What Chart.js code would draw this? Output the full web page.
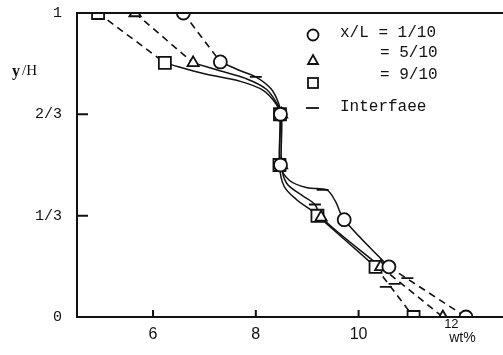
<!DOCTYPE html>
<html>
<head>
<meta charset="utf-8">
<script src="https://cdn.jsdelivr.net/npm/chart.js@4.4.0/dist/chart.umd.min.js"></script>
<style>
  html, body { margin: 0; padding: 0; background: #fff; overflow: hidden; }
  canvas { display: block; }
</style>
</head>
<body>
<canvas id="profile" width="503" height="355"></canvas>
<script>
// measured concentration profiles, x = wt%, y = y/H
const circleX   = [6.59, 7.31, 8.48, 8.48, 9.72, 10.59, 12.09];
const circleY   = [1, 0.839, 0.667, 0.5, 0.32, 0.165, 0];
const triangleX = [5.65, 6.78, 8.5, 8.5, 9.27, 10.43, 11.64];
const triangleY = [1, 0.836, 0.667, 0.5, 0.328, 0.165, 0];
const squareX   = [4.93, 6.23, 8.47, 8.46, 9.2, 10.33, 11.07];
const squareY   = [1, 0.836, 0.667, 0.5, 0.333, 0.165, 0];

// interface curves through the middle of each profile
const circleIfX   = [7.31, 7.7, 8.0, 8.3, 8.45, 8.48, 8.48, 8.65, 9.0, 9.38, 9.55, 9.72, 10.59];
const circleIfY   = [0.839, 0.81, 0.79, 0.75, 0.70, 0.667, 0.5, 0.45, 0.425, 0.418, 0.38, 0.32, 0.165];
const triangleIfX = [6.78, 7.3, 7.8, 8.2, 8.42, 8.5, 8.5, 8.6, 8.9, 9.15, 9.27, 10.43];
const triangleIfY = [0.836, 0.81, 0.785, 0.75, 0.70, 0.667, 0.5, 0.44, 0.40, 0.37, 0.328, 0.165];
const squareIfX   = [6.23, 7.0, 7.7, 8.15, 8.4, 8.47, 8.46, 8.55, 8.8, 9.05, 9.2, 10.33];
const squareIfY   = [0.836, 0.80, 0.775, 0.745, 0.70, 0.667, 0.5, 0.43, 0.385, 0.355, 0.333, 0.165];

// short interface marks
const markX = [8.0, 9.3, 9.15, 10.95, 10.7, 10.53];
const markY = [0.79, 0.418, 0.37, 0.128, 0.109, 0.099];

const xTicks = [6, 8, 10, 12];
const yTickValues = [0, 1 / 3, 2 / 3, 1];
const yTickLabels = ['0', '1/3', '2/3', '1'];
const legendRatios = ['x/L = 1/10', '= 5/10', '= 9/10'];

const pts = (xs, ys) => xs.map((x, i) => ({ x: x, y: ys[i] }));

const dashed = (xs, ys, a, b) => ({
  data: pts([xs[a], xs[b]], [ys[a], ys[b]]),
  showLine: true,
  borderColor: '#111',
  borderWidth: 1.6,
  borderDash: [7, 5],
  pointRadius: 0,
  order: 3,
});

const iface = (xs, ys) => ({
  data: pts(xs, ys),
  showLine: true,
  borderColor: '#111',
  borderWidth: 1.5,
  tension: 0.35,
  pointRadius: 0,
  order: 2,
});

const markers = (xs, ys, style, r) => ({
  data: pts(xs, ys),
  showLine: false,
  pointStyle: style,
  pointRadius: r,
  pointBorderWidth: 1.8,
  pointBorderColor: '#111',
  pointBackgroundColor: '#fff',
  order: 0,
});

// frame line on top, inward tick marks, x labels, axis titles and legend
const decor = {
  id: 'decor',
  afterDraw(chart) {
    const { ctx, chartArea: a, scales } = chart;
    ctx.save();
    ctx.strokeStyle = '#111';
    ctx.lineWidth = 2;
    ctx.beginPath();
    ctx.moveTo(a.left, a.top);
    ctx.lineTo(chart.width, a.top);
    ctx.moveTo(a.left, a.bottom);
    ctx.lineTo(chart.width, a.bottom);
    [6, 8, 10].forEach(v => {
      const px = scales.x.getPixelForValue(v);
      ctx.moveTo(px, a.bottom);
      ctx.lineTo(px, a.bottom - 7);
    });
    [1 / 3, 2 / 3].forEach(v => {
      const py = scales.y.getPixelForValue(v);
      ctx.moveTo(a.left, py);
      ctx.lineTo(a.left + 11, py);
    });
    ctx.stroke();

    ctx.fillStyle = '#111';
    ctx.textBaseline = 'middle';
    ctx.textAlign = 'center';
    ctx.font = '16px "Liberation Sans"';
    xTicks.slice(0, 3).forEach(v => {
      ctx.fillText(String(v), scales.x.getPixelForValue(v), 335);
    });

    // last x label sits raised with the unit under it
    const p12 = scales.x.getPixelForValue(xTicks[3]) - 10;
    ctx.font = '13px "Liberation Sans"';
    ctx.fillText(String(xTicks[3]), p12, 324);
    ctx.font = '14px "Liberation Sans"';
    ctx.fillText('wt%', p12 + 11, 338);
    ctx.textAlign = 'left';

    ctx.font = 'bold 16px "Liberation Serif"';
    ctx.fillText('y', 12, 72);
    ctx.font = '15px "Liberation Serif"';
    ctx.fillText('/H', 22, 71);

    // legend
    const sx = 313;
    const rows = [35, 60, 83];
    ctx.lineWidth = 1.8;
    ctx.fillStyle = '#fff';
    ctx.beginPath();
    ctx.arc(sx, rows[0], 5.5, 0, Math.PI * 2);
    ctx.fill();
    ctx.stroke();
    ctx.beginPath();
    ctx.moveTo(sx, rows[1] - 5);
    ctx.lineTo(sx + 5, rows[1] + 4);
    ctx.lineTo(sx - 5, rows[1] + 4);
    ctx.closePath();
    ctx.stroke();
    ctx.strokeRect(sx - 5, rows[2] - 5, 10, 10);
    ctx.beginPath();
    ctx.moveTo(sx - 7, 108);
    ctx.lineTo(sx + 6, 108);
    ctx.stroke();

    ctx.fillStyle = '#111';
    ctx.font = '16px "Liberation Mono"';
    ctx.fillText(legendRatios[0], 340, 33);
    ctx.fillText(legendRatios[1], 380, 53);
    ctx.fillText(legendRatios[2], 380, 75);
    ctx.fillText('Interfaee', 340, 107);
    ctx.restore();
  }
};

new Chart(document.getElementById('profile'), {
  type: 'scatter',
  data: {
    datasets: [
      markers(circleX, circleY, 'circle', 6.5),
      markers(triangleX, triangleY, 'triangle', 6.5),
      markers(squareX, squareY, 'rect', 8.5),
      {
        data: pts(markX, markY),
        showLine: false,
        pointStyle: 'line',
        pointRadius: 6,
        pointBorderWidth: 1.8,
        pointBorderColor: '#111',
        order: 1,
      },
      iface(circleIfX, circleIfY),
      iface(triangleIfX, triangleIfY),
      iface(squareIfX, squareIfY),
      dashed(circleX, circleY, 0, 1),
      dashed(triangleX, triangleY, 0, 1),
      dashed(squareX, squareY, 0, 1),
      dashed(circleX, circleY, 5, 6),
      dashed(triangleX, triangleY, 5, 6),
      dashed(squareX, squareY, 5, 6),
    ],
  },
  options: {
    responsive: false,
    animation: false,
    devicePixelRatio: 1,
    layout: { padding: { top: 13, right: 0, left: 0, bottom: 0 } },
    plugins: {
      legend: { display: false },
      tooltip: { enabled: false },
    },
    scales: {
      x: {
        type: 'linear',
        min: 4.52,
        max: 12.61,
        afterFit: s => { s.height = 38; s.paddingLeft = 0; s.paddingRight = 0; },
        afterBuildTicks: s => { s.ticks = xTicks.map(v => ({ value: v })); },
        grid: { display: false },
        border: { display: true, color: '#111', width: 2 },
        ticks: { display: false },
      },
      y: {
        type: 'linear',
        min: 0,
        max: 1,
        afterFit: s => { s.width = 77; s.paddingTop = 0; s.paddingBottom = 0; },
        afterBuildTicks: s => { s.ticks = yTickValues.map(v => ({ value: v })); },
        grid: { display: false },
        border: { display: true, color: '#111', width: 2 },
        ticks: {
          color: '#111',
          padding: 7,
          font: { family: 'Liberation Mono', size: 15 },
          callback: (v, i) => yTickLabels[i],
        },
      },
    },
  },
  plugins: [decor],
});
</script>
</body>
</html>
